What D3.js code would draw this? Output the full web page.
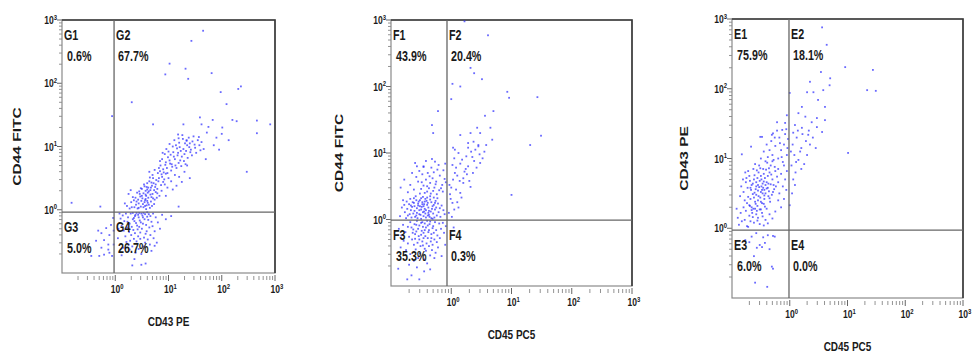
<!DOCTYPE html>
<html lang="en">
<head>
<meta charset="UTF-8">
<title>CD44 / CD43 / CD45 dot plots</title>
<script src="https://d3js.org/d3.v7.min.js"></script>
<style>
  body { margin: 0; background: #fff; }
  svg text { font-family: "Liberation Sans", Arial, sans-serif; font-weight: bold; fill: #1a1a1a; }
</style>
</head>
<body>
<svg id="chart" width="973" height="356"></svg>
<script>
// events as [log10 x, log10 y]
const gEvents = [
  // G1
  [-0.06,1.48],[-0.82,0.11],[-0.28,0.05],
  // G3
  [-0.45,-0.73],[-0.26,-0.37],[-0.21,-0.48],[-0.13,-0.55],[-0.11,-0.68],[-0.06,-0.73],[-0.32,-0.33],[-0.17,-0.29],[-0.08,-0.24],
  [-0.04,-0.13],[-0.36,-0.49],[-0.13,-0.63],[-0.03,-0.55],[-0.21,-0.71],[-0.26,-0.60],[-0.11,-0.40],[-0.03,-0.33],[-0.30,-0.73],
  // G4
  [0.45,-0.05],[0.52,-0.12],[0.38,-0.08],[0.60,-0.04],[0.33,-0.15],[0.48,-0.20],[0.56,-0.07],[0.41,-0.25],[0.66,-0.10],[0.29,-0.06],
  [0.50,-0.30],[0.36,-0.18],[0.62,-0.16],[0.44,-0.12],[0.27,-0.22],[0.58,-0.24],[0.40,-0.05],[0.71,-0.06],[0.34,-0.32],[0.53,-0.05],
  [0.24,-0.12],[0.47,-0.36],[0.64,-0.28],[0.31,-0.27],[0.55,-0.15],[0.20,-0.06],[0.43,-0.42],[0.68,-0.19],[0.37,-0.10],[0.59,-0.34],
  [0.26,-0.35],[0.51,-0.09],[0.76,-0.12],[0.35,-0.46],[0.46,-0.17],[0.17,-0.18],[0.63,-0.07],[0.30,-0.40],[0.54,-0.44],[0.42,-0.31],
  [0.22,-0.28],[0.70,-0.26],[0.39,-0.21],[0.49,-0.06],[0.14,-0.09],[0.57,-0.38],[0.33,-0.05],[0.80,-0.20],[0.28,-0.49],[0.45,-0.27],
  [0.19,-0.42],[0.61,-0.47],[0.37,-0.37],[0.52,-0.22],[0.12,-0.25],[0.74,-0.34],[0.43,-0.08],[0.25,-0.55],[0.66,-0.40],[0.35,-0.13],
  [0.10,-0.14],[0.56,-0.52],[0.47,-0.46],[0.23,-0.19],[0.88,-0.08],[0.32,-0.58],[0.60,-0.11],[0.16,-0.33],[0.40,-0.50],[0.72,-0.45],
  [0.08,-0.06],[0.53,-0.58],[0.27,-0.63],[0.84,-0.30],[0.44,-0.62],[0.06,-0.30],[0.65,-0.55],[0.38,-0.68],[0.95,-0.15],[0.21,-0.51],
  [0.15,-0.60],[0.49,-0.70],[0.05,-0.45],[1.05,-0.10],[0.78,-0.52],[0.36,-0.78],[0.12,-0.72],[0.57,-0.85],[0.32,-0.88],[0.68,-0.65],
  [0.74,-0.57],[0.49,-0.87],
  // G2 core
  [0.62,0.19],[0.55,0.12],[0.70,0.25],[0.48,0.05],[0.66,0.31],[0.58,0.22],[0.74,0.16],[0.51,0.18],[0.63,0.08],[0.69,0.38],
  [0.44,0.10],[0.57,0.30],[0.79,0.33],[0.60,0.14],[0.53,0.26],[0.72,0.42],[0.65,0.03],[0.47,0.21],[0.81,0.45],[0.59,0.36],
  [0.42,0.02],[0.68,0.20],[0.76,0.28],[0.50,0.33],[0.64,0.45],[0.56,0.06],[0.86,0.39],[0.61,0.27],[0.39,0.08],[0.73,0.09],
  [0.54,0.40],[0.67,0.13],[0.83,0.22],[0.45,0.29],[0.71,0.50],[0.58,0.01],[0.77,0.47],[0.62,0.35],[0.49,0.14],[0.88,0.52],
  [0.36,0.04],[0.66,0.24],[0.75,0.36],[0.52,0.09],[0.60,0.42],[0.80,0.58],[0.57,0.17],[0.69,0.06],[0.43,0.16],[0.92,0.48],
  [0.63,0.29],[0.70,0.55],[0.55,0.37],[0.78,0.19],[0.46,0.25],[0.84,0.61],[0.59,0.07],[0.73,0.31],[0.50,0.22],[0.65,0.51],
  [0.40,0.13],[0.87,0.30],[0.61,0.11],[0.68,0.43],[0.53,0.04],[0.76,0.40],[0.57,0.24],[0.95,0.57],[0.48,0.34],[0.71,0.18],
  [0.64,0.60],[0.82,0.50],[0.38,0.19],[0.60,0.32],[0.74,0.63],[0.56,0.15],[0.90,0.44],[0.67,0.35],[0.44,0.03],[0.79,0.26],
  [0.22,0.06],[0.30,0.12],[0.27,0.02],[0.33,0.20],[0.18,0.10],[0.35,0.15],[0.25,0.25],[0.31,0.04],[0.41,0.27],[0.29,0.31],
  [1.05,0.45],[0.98,0.35],[1.12,0.55],[0.95,0.22],[1.20,0.52],[1.30,0.60],[1.00,0.50],[1.08,0.32],[1.25,0.44],[0.93,0.40],
  [1.35,0.70],[1.15,0.38],[1.19,0.05],[1.40,0.50],
  // G2 upper band
  [0.85,0.70],[0.97,0.66],[1.02,0.78],[0.91,0.59],[1.10,0.84],[0.88,0.80],[1.05,0.62],[1.18,0.90],[0.95,0.75],[1.22,0.78],
  [1.00,0.92],[1.13,0.70],[1.28,0.96],[0.93,0.88],[1.08,1.00],[1.25,0.84],[1.35,1.02],[0.82,0.66],[1.16,0.97],[1.30,0.88],
  [1.40,1.05],[1.06,0.72],[1.20,1.06],[0.99,0.83],[1.33,0.93],[1.45,1.08],[1.12,0.80],[1.27,1.12],[1.50,0.98],[0.90,0.64],
  [1.04,0.87],[1.38,1.14],[1.19,0.74],[1.55,1.10],[0.96,0.96],[1.24,0.69],[1.42,0.95],[1.09,0.91],[1.31,1.05],[1.58,1.02],
  [0.87,0.56],[1.15,0.66],[1.36,0.82],[1.47,1.16],[1.02,1.04],[1.21,0.99],[1.62,1.07],[0.94,0.71],[1.29,0.77],[1.52,0.90],
  [1.11,1.10],[1.44,0.86],[0.98,0.58],[1.26,1.18],[1.39,0.99],[1.07,0.68],[1.57,1.15],[1.17,0.86],[1.34,1.09],[1.66,0.96],
  [0.84,0.77],[1.23,0.93],[1.49,1.03],[1.03,0.73],[1.32,0.72],[1.14,1.02],[1.60,0.94],[0.89,0.90],[1.41,0.91],[1.19,1.13],
  // G2 scattered
  [1.65,2.83],[1.43,2.67],[1.02,2.31],[0.94,2.14],[1.32,2.23],[1.37,2.07],[1.81,2.16],[2.31,1.91],[2.36,1.95],[1.98,1.86],
  [2.09,1.67],[0.31,1.70],[0.71,1.35],[1.28,1.35],[1.59,1.46],[1.62,1.35],[1.75,1.31],[1.83,1.42],[2.01,1.30],[2.20,1.42],
  [2.28,1.40],[2.66,1.41],[2.91,1.35],[2.66,1.21],[2.00,1.20],[1.18,1.19],[1.34,1.10],[1.90,1.14],[2.13,1.10],[2.47,0.60],
  [1.72,1.22],[1.85,1.02],[1.70,0.80],[1.95,0.95]
];

const fEvents = [
  // F1
  [-0.51,0.07],[-0.45,0.12],[-0.60,0.04],[-0.38,0.18],[-0.55,0.21],[-0.30,0.09],[-0.67,0.14],[-0.42,0.03],[-0.48,0.26],[-0.35,0.30],
  [-0.62,0.25],[-0.27,0.15],[-0.57,0.10],[-0.40,0.22],[-0.72,0.06],[-0.33,0.02],[-0.50,0.32],[-0.44,0.16],[-0.65,0.19],[-0.22,0.24],
  [-0.53,0.14],[-0.37,0.07],[-0.58,0.29],[-0.29,0.33],[-0.46,0.05],[-0.70,0.23],[-0.41,0.28],[-0.24,0.06],[-0.63,0.09],[-0.52,0.20],
  [-0.34,0.12],[-0.77,0.11],[-0.47,0.34],[-0.19,0.17],[-0.56,0.02],[-0.39,0.25],[-0.68,0.31],[-0.31,0.20],[-0.54,0.27],[-0.43,0.09],
  [-0.82,0.18],[-0.26,0.28],[-0.61,0.13],[-0.36,0.04],[-0.49,0.19],[-0.74,0.27],[-0.21,0.11],[-0.59,0.35],[-0.45,0.23],[-0.32,0.16],
  [-0.66,0.03],[-0.40,0.33],[-0.53,0.08],[-0.16,0.21],[-0.78,0.22],[-0.28,0.03],[-0.50,0.15],[-0.64,0.26],[-0.37,0.13],[-0.43,0.31],
  [-0.57,0.17],[-0.23,0.32],[-0.69,0.08],[-0.33,0.26],[-0.47,0.11],[-0.85,0.05],[-0.39,0.06],[-0.55,0.24],[-0.18,0.04],[-0.61,0.20],
  [-0.44,0.27],[-0.29,0.22],[-0.73,0.16],[-0.50,0.01],[-0.35,0.35],[-0.62,0.32],[-0.13,0.14],[-0.46,0.20],[-0.80,0.29],[-0.25,0.18],
  [-0.58,0.06],[-0.42,0.14],[-0.67,0.21],[-0.31,0.01],[-0.52,0.29],[-0.38,0.10],[-0.11,0.08],[-0.75,0.02],[-0.48,0.23],[-0.27,0.25],
  [-0.40,0.42],[-0.28,0.48],[-0.52,0.39],[-0.35,0.55],[-0.20,0.44],[-0.46,0.51],[-0.62,0.45],[-0.31,0.62],[-0.15,0.52],[-0.42,0.60],
  [-0.24,0.38],[-0.55,0.57],[-0.37,0.47],[-0.11,0.61],[-0.48,0.68],[-0.29,0.71],[-0.68,0.52],[-0.19,0.66],[-0.44,0.40],[-0.33,0.78],
  [-0.58,0.64],[-0.25,0.57],[-0.13,0.74],[-0.50,0.46],[-0.39,0.70],[-0.72,0.41],[-0.21,0.82],[-0.46,0.80],[-0.30,0.43],[-0.60,0.85],
  [-0.17,0.47],[-0.36,0.65],[-0.53,0.73],[-0.09,0.56],[-0.42,0.88],[-0.26,0.53],[-0.65,0.70],[-0.14,0.42],[-0.32,0.91],[-0.49,0.56],
  [-0.78,0.60],[-0.23,0.75],[-0.40,0.50],[-0.57,0.80],[-0.10,0.84],[-0.34,0.39],[-0.84,0.48],[-0.27,0.87],
  [-0.22,1.63],[-0.32,1.42],[-0.30,1.30],[-0.46,0.79],
  // F2
  [-0.04,0.10],[0.02,0.25],[-0.02,0.38],[0.05,0.15],[0.10,0.26],[-0.03,0.52],[0.15,0.40],[0.01,0.04],[0.08,0.45],[0.03,0.60],
  [-0.01,0.31],[0.12,0.18],[0.06,0.70],[0.20,0.55],[0.00,0.48],[0.17,0.33],
  [0.10,0.66],[0.22,0.72],[0.32,0.49],[0.15,0.84],[0.28,0.80],[0.05,0.92],[0.38,0.88],[0.25,0.95],[0.12,1.00],[0.42,0.78],
  [0.33,1.02],[0.20,0.62],[0.47,0.98],[0.08,0.78],[0.36,0.70],[0.28,1.08],[0.52,0.92],[0.18,0.90],[0.45,1.10],[0.02,0.82],
  [0.30,0.58],[0.40,1.05],[0.24,0.76],[0.55,1.02],[0.14,0.58],[0.35,0.94],[0.48,0.85],[0.06,1.05],[0.26,0.68],[0.58,1.12],
  [0.22,2.98],[0.61,2.77],[0.32,2.28],[0.38,2.20],[0.51,2.11],[0.02,2.04],[0.15,2.00],[0.00,1.81],[0.93,1.92],[0.96,1.83],
  [1.43,1.84],[0.70,1.63],[0.56,1.56],[0.43,1.38],[0.65,1.38],[0.32,1.30],[0.15,1.27],[0.48,1.30],[1.49,1.26],[1.31,1.12],
  [0.68,1.20],[0.37,1.17],[0.28,1.15],[0.03,1.08],[0.45,1.12],[1.00,0.37],
  // F4
  [0.04,-0.12],
  // F3
  [-0.50,-0.05],[-0.42,-0.12],[-0.58,-0.08],[-0.35,-0.03],[-0.46,-0.20],[-0.63,-0.15],[-0.30,-0.10],[-0.54,-0.25],[-0.39,-0.28],[-0.68,-0.04],
  [-0.25,-0.16],[-0.48,-0.33],[-0.60,-0.22],[-0.33,-0.22],[-0.72,-0.11],[-0.44,-0.06],[-0.55,-0.14],[-0.28,-0.30],[-0.65,-0.30],[-0.37,-0.16],
  [-0.20,-0.06],[-0.51,-0.40],[-0.76,-0.19],[-0.41,-0.36],[-0.57,-0.02],[-0.31,-0.38],[-0.47,-0.11],[-0.70,-0.26],[-0.23,-0.24],[-0.62,-0.38],
  [-0.36,-0.07],[-0.53,-0.30],[-0.80,-0.08],[-0.44,-0.44],[-0.27,-0.04],[-0.59,-0.45],[-0.38,-0.19],[-0.66,-0.12],[-0.17,-0.14],[-0.49,-0.17],
  [-0.83,-0.24],[-0.32,-0.46],[-0.56,-0.35],[-0.43,-0.25],[-0.72,-0.36],[-0.24,-0.34],[-0.61,-0.07],[-0.40,-0.02],[-0.52,-0.51],[-0.29,-0.20],
  [-0.75,-0.46],[-0.46,-0.28],[-0.35,-0.54],[-0.64,-0.20],[-0.19,-0.28],[-0.55,-0.58],[-0.42,-0.47],[-0.87,-0.14],[-0.31,-0.13],[-0.68,-0.52],
  [-0.48,-0.04],[-0.37,-0.40],[-0.58,-0.18],[-0.22,-0.42],[-0.45,-0.60],[-0.79,-0.32],[-0.33,-0.28],[-0.62,-0.62],[-0.14,-0.05],[-0.50,-0.23],
  [-0.40,-0.66],[-0.70,-0.68],[-0.28,-0.58],[-0.57,-0.72],[-0.45,-0.78],[-0.84,-0.42],[-0.35,-0.75],[-0.66,-0.84],[-0.53,-0.90],[-0.26,-0.50],
  [-0.12,-0.20],[-0.10,-0.38],[-0.16,-0.55],[-0.09,-0.10],[-0.44,-0.16],[-0.53,-0.09],[-0.39,-0.09],[-0.60,-0.29],[-0.34,-0.33],[-0.47,-0.39],
  [-0.88,-0.74],[-0.73,-0.90]
];

const eEvents = [
  // E1
  [-0.55,0.62],[-0.48,0.55],[-0.62,0.70],[-0.40,0.66],[-0.58,0.48],[-0.50,0.75],[-0.68,0.58],[-0.44,0.42],[-0.35,0.80],[-0.60,0.38],
  [-0.52,0.68],[-0.72,0.45],[-0.38,0.58],[-0.46,0.85],[-0.64,0.64],[-0.30,0.70],[-0.56,0.32],[-0.42,0.50],[-0.76,0.66],[-0.49,0.60],
  [-0.33,0.90],[-0.66,0.30],[-0.54,0.80],[-0.45,0.35],[-0.70,0.75],[-0.28,0.62],[-0.59,0.56],[-0.37,0.46],[-0.80,0.52],[-0.51,0.44],
  [-0.43,0.72],[-0.63,0.85],[-0.25,0.82],[-0.57,0.25],[-0.47,0.64],[-0.74,0.36],[-0.36,0.53],[-0.53,0.90],[-0.61,0.51],[-0.40,0.28],
  [-0.69,0.68],[-0.31,0.48],[-0.55,0.40],[-0.84,0.60],[-0.45,0.78],[-0.65,0.22],[-0.22,0.74],[-0.50,0.52],[-0.39,0.94],[-0.72,0.82],
  [-0.58,0.66],[-0.34,0.38],[-0.46,0.58],[-0.78,0.40],[-0.27,0.56],[-0.62,0.44],[-0.52,0.27],[-0.41,0.84],[-0.67,0.55],[-0.30,0.96],
  [-0.56,0.72],[-0.48,0.36],[-0.75,0.72],[-0.37,0.64],[-0.60,0.92],[-0.20,0.66],[-0.44,0.55],[-0.70,0.33],[-0.53,0.59],[-0.32,0.77],
  [-0.64,0.49],[-0.42,0.62],[-0.86,0.46],[-0.57,0.83],[-0.35,0.43],[-0.49,0.70],[-0.66,0.62],[-0.26,0.88],[-0.54,0.46],[-0.43,0.31],
  [-0.73,0.58],[-0.38,0.75],[-0.61,0.76],[-0.47,0.50],[-0.29,0.52],[-0.59,0.35],[-0.51,0.86],[-0.81,0.70],[-0.40,0.57],[-0.68,0.42],
  [-0.24,0.60],[-0.55,0.54],[-0.45,0.67],[-0.63,0.28],[-0.33,0.63],[-0.50,0.38],[-0.77,0.80],[-0.36,0.86],[-0.58,0.60],[-0.44,0.47],
  [-0.85,0.22],[-0.78,0.12],[-0.70,0.18],[-0.62,0.08],[-0.55,0.15],[-0.88,0.05],[-0.48,0.22],[-0.66,0.26],[-0.74,0.03],[-0.58,0.20],
  [-0.80,0.30],[-0.42,0.12],[-0.68,0.10],[-0.52,0.06],[-0.90,0.15],[-0.35,0.20],[-0.60,0.28],[-0.76,0.25],[-0.45,0.04],[-0.64,0.16],
  [-0.83,0.10],[-0.50,0.27],[-0.30,0.14],[-0.72,0.02],[-0.38,0.07],[-0.56,0.11],[-0.92,0.28],[-0.25,0.24],[-0.47,0.17],[-0.69,0.32],
  [-0.30,1.05],[-0.20,1.00],[-0.15,1.12],[-0.38,1.02],[-0.10,1.20],[-0.25,1.18],[-0.45,1.10],[-0.05,1.05],[-0.18,1.30],[-0.32,1.25],
  [-0.08,1.35],[-0.28,0.98],[-0.12,0.95],[-0.40,1.20],[-0.03,1.28],[-0.22,1.40],[-0.35,1.12],[-0.14,1.02],[-0.06,1.42],[-0.26,1.30],
  [-0.50,1.00],[-0.17,1.22],[-0.42,0.96],[-0.04,1.15],[-0.10,0.90],[-0.20,0.85],[-0.15,0.78],[-0.08,0.70],[-0.12,0.60],[-0.05,0.82],
  [-0.51,1.31],[-0.31,1.34],[-0.22,1.52],[-0.13,1.41],[-0.08,1.51],[-0.48,1.31],[-0.83,1.06],[-0.67,1.17],[-0.05,1.62],[-0.29,1.36],
  [-0.18,0.50],[-0.10,0.42],[-0.15,0.30],[-0.06,0.55],[-0.20,0.40],
  // E2
  [0.56,2.88],[0.64,2.63],[0.54,2.24],[0.70,2.15],[0.96,2.31],[1.44,2.27],[0.35,2.10],[0.69,2.05],[1.34,1.98],[1.49,1.97],
  [0.00,1.94],[0.30,1.95],[0.41,1.95],[0.58,1.98],[0.49,1.84],[0.21,1.74],[0.61,1.74],[0.15,1.65],[0.27,1.60],[0.47,1.58],
  [0.38,1.52],[0.61,1.55],[0.09,1.48],[0.21,1.44],[0.47,1.45],[0.56,1.38],[0.06,1.37],[0.32,1.34],[1.01,1.08],[0.00,0.33],
  [0.05,1.20],[0.12,1.30],[0.20,1.15],[0.08,1.05],[0.28,1.25],[0.15,0.98],[0.35,1.20],[0.03,0.90],[0.22,1.35],[0.40,1.30],
  [0.10,0.80],[0.18,1.10],[0.30,1.05],[0.06,0.70],[0.25,0.92],[0.45,1.15],[0.14,1.40],[0.02,1.10],[0.33,1.40],[0.09,0.62],
  [0.20,0.85],[0.04,0.50],[0.11,0.95],
  // E3
  [-0.58,-0.07],[-0.46,-0.13],[-0.38,-0.10],[-0.29,-0.11],[-0.52,-0.24],[-0.57,-0.28],[-0.48,-0.27],[-0.31,-0.55],[-0.60,-0.78],[-0.39,-0.84],
  [-0.26,-0.12],[-0.66,-0.12],[-0.43,-0.21],[-0.77,-0.17],[-0.29,-0.58],[-0.70,-0.20],[-0.35,-0.30],[-0.62,-0.40]
];

const panelNames = ["G", "F", "E"];
const gPercents = ["0.6%", "67.7%", "5.0%", "26.7%"];
const fPercents = ["43.9%", "20.4%", "35.3%", "0.3%"];
const ePercents = ["75.9%", "18.1%", "6.0%", "0.0%"];
const xTitles = ["CD43 PE", "CD45 PC5", "CD45 PC5"];
const yTitles = ["CD44 FITC", "CD44 FITC", "CD43 PE"];
const gateX = [0.95, 0.85, 0.97];
const gateY = [0.92, 0.98, 0.94];
const decadeExps = [0, 1, 2, 3];
const domain = [0.1, 1000];

// layout of the three plot boxes in the figure
const boxes = [
  { x0: 62,  x1: 275, y0: 20, y1: 273, yTitleX: 21 },
  { x0: 391, x1: 632, y0: 20, y1: 286, yTitleX: 343 },
  { x0: 732, x1: 963, y0: 19, y1: 298, yTitleX: 688 }
];
const events = [gEvents, fEvents, eEvents];
const percents = [gPercents, fPercents, ePercents];

const SX = 0.74; // the figure is squeezed horizontally
const svg = d3.select("#chart");

function squeezed(g, x, y, size, anchor) {
  return g.append("text")
    .attr("transform", `translate(${x},${y}) scale(${SX},1)`)
    .attr("font-size", size)
    .attr("text-anchor", anchor || "start");
}

function powerLabel(g, x, y, exp, anchor) {
  const t = squeezed(g, x, y, 11.5, anchor);
  t.append("tspan").text("10");
  t.append("tspan").attr("dy", -4.5).attr("font-size", 8).text(exp);
  return t;
}

const minorVals = [];
[-1, 0, 1, 2].forEach(d => { for (let m = 2; m <= 9; m++) minorVals.push(m * Math.pow(10, d)); });

boxes.forEach((b, i) => {
  const g = svg.append("g");
  const x = d3.scaleLog().domain(domain).range([b.x0, b.x1]);
  const y = d3.scaleLog().domain(domain).range([b.y1, b.y0]);

  // ticks, left axis
  g.append("g").selectAll("line").data(minorVals).join("line")
    .attr("x1", b.x0 - 3).attr("x2", b.x0)
    .attr("y1", d => y(d)).attr("y2", d => y(d))
    .attr("stroke", "#777").attr("stroke-width", 0.8);
  g.append("g").selectAll("line").data(decadeExps).join("line")
    .attr("x1", b.x0 - 5).attr("x2", b.x0)
    .attr("y1", d => y(Math.pow(10, d))).attr("y2", d => y(Math.pow(10, d)))
    .attr("stroke", "#666").attr("stroke-width", 1);

  // ticks, bottom axis
  g.append("g").selectAll("line").data(minorVals).join("line")
    .attr("x1", d => x(d)).attr("x2", d => x(d))
    .attr("y1", b.y1 + 3).attr("y2", b.y1 + 7)
    .attr("stroke", "#777").attr("stroke-width", 0.8);
  g.append("g").selectAll("line").data(decadeExps).join("line")
    .attr("x1", d => x(Math.pow(10, d))).attr("x2", d => x(Math.pow(10, d)))
    .attr("y1", b.y1 + 2).attr("y2", b.y1 + 8)
    .attr("stroke", "#666").attr("stroke-width", 1);

  decadeExps.forEach(d => {
    powerLabel(g, b.x0 - 5, y(Math.pow(10, d)) + 4, d, "end");
    powerLabel(g, x(Math.pow(10, d)) - 4.5, b.y1 + 20, d, "start");
  });

  // frame
  g.append("rect")
    .attr("x", b.x0).attr("y", b.y0)
    .attr("width", b.x1 - b.x0).attr("height", b.y1 - b.y0)
    .attr("fill", "none").attr("stroke", "#8a8a8a").attr("stroke-width", 1.2);
  g.append("path")
    .attr("d", `M${b.x0},${b.y0}H${b.x1}V${b.y1}`)
    .attr("fill", "none").attr("stroke", "#3a3a3a").attr("stroke-width", 1.6);

  // events
  g.append("g").selectAll("rect").data(events[i]).join("rect")
    .attr("x", d => x(Math.pow(10, d[0])) - 0.9)
    .attr("y", d => y(Math.pow(10, d[1])) - 0.9)
    .attr("width", 1.8).attr("height", 1.8)
    .attr("fill", "#2f2fff").attr("opacity", 0.72);

  // quadrant gates
  const gx = x(gateX[i]), gy = y(gateY[i]);
  g.append("line").attr("x1", gx).attr("x2", gx).attr("y1", b.y0).attr("y2", b.y1)
    .attr("stroke", "#666").attr("stroke-width", 1.3);
  g.append("line").attr("x1", b.x0).attr("x2", b.x1).attr("y1", gy).attr("y2", gy)
    .attr("stroke", "#666").attr("stroke-width", 1.3);

  const quads = [
    [b.x0 + 2, b.x0 + 5, b.y0],
    [gx + 2, gx + 4, b.y0],
    [b.x0 + 2, b.x0 + 5, gy],
    [gx + 2, gx + 4, gy]
  ];
  quads.forEach((q, k) => {
    squeezed(g, q[0], q[2] + 20, 14.5).text(panelNames[i] + (k + 1));
    squeezed(g, q[1], q[2] + 41, 14.5).text(percents[i][k]);
  });

  // axis titles
  squeezed(g, (b.x0 + b.x1) / 2, b.y1 + 53, 13.5, "middle").text(xTitles[i]);
  g.append("text")
    .attr("transform", `translate(${b.yTitleX},${(b.y0 + b.y1) / 2}) scale(${SX},1) rotate(-90)`)
    .attr("font-size", 15.5)
    .attr("text-anchor", "middle")
    .text(yTitles[i]);
});
</script>
</body>
</html>
